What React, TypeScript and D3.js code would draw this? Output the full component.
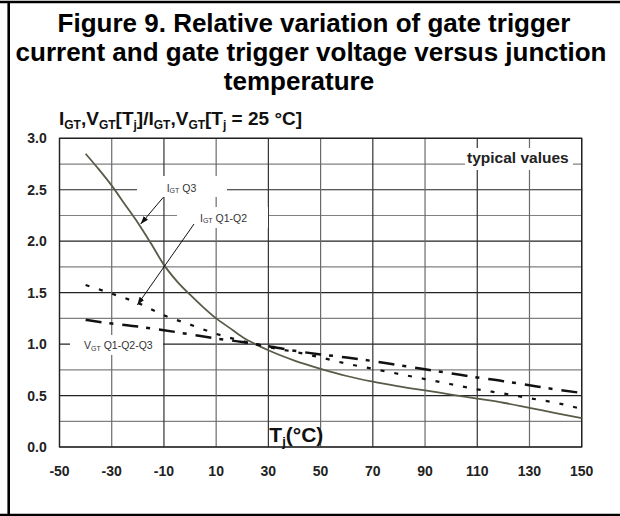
import React from 'react';
import * as d3 from 'd3';

// temperatures (°C) and normalized values
const tempQ3 = [-40, -35, -30, -25, -20, -15, -10, -5, 0, 5, 10, 15, 20, 25, 30, 40, 50, 60, 70, 80, 90, 100, 110, 120, 130, 140, 150];
const igtQ3 = [2.85, 2.70, 2.54, 2.36, 2.18, 1.98, 1.77, 1.61, 1.48, 1.36, 1.25, 1.16, 1.07, 1.0, 0.94, 0.84, 0.76, 0.69, 0.635, 0.59, 0.55, 0.51, 0.47, 0.43, 0.38, 0.33, 0.28];

const temps = [-40, -30, -20, -10, 0, 10, 20, 25, 30, 40, 50, 60, 70, 80, 90, 100, 110, 120, 130, 140, 150];
const igtQ12 = [1.575, 1.49, 1.40, 1.28, 1.19, 1.10, 1.03, 1.0, 0.97, 0.925, 0.87, 0.81, 0.76, 0.71, 0.66, 0.61, 0.56, 0.52, 0.475, 0.43, 0.37];
const vgt = [1.235, 1.20, 1.17, 1.135, 1.095, 1.055, 1.02, 1.0, 0.98, 0.935, 0.90, 0.87, 0.835, 0.795, 0.755, 0.715, 0.675, 0.64, 0.60, 0.56, 0.525];

const xTicks = [-50, -30, -10, 10, 30, 50, 70, 90, 110, 130, 150];
const yTicks = [0, 0.5, 1.0, 1.5, 2.0, 2.5, 3.0];
const yGrid = d3.range(0, 3.0001, 0.25);

const titleLines = [
  'Figure 9. Relative variation of gate trigger',
  'current and gate trigger voltage versus junction',
  'temperature',
];

const W = 620, H = 516;
const font = '"Liberation Sans", Arial, Helvetica, sans-serif';

export default function App() {
  // plot area
  const x = d3.scaleLinear().domain([-50, 150]).range([59.5, 581.7]);
  const y = d3.scaleLinear().domain([0, 3]).range([447, 138.3]);

  const line = d3.line<[number, number]>()
    .x(d => x(d[0]))
    .y(d => y(d[1]))
    .curve(d3.curveMonotoneX);

  const q3Path = line(tempQ3.map((t, i) => [t, igtQ3[i]]));
  const q12Path = line(temps.map((t, i) => [t, igtQ12[i]]));
  const vgtPath = line(temps.map((t, i) => [t, vgt[i]]));

  const titleX = [314, 311, 299];

  return (
    <svg width={W} height={H} style={{ position: 'absolute', left: 0, top: 0, fontFamily: font }}>
      <defs>
        <marker id="arr" viewBox="0 0 10 10" refX="10" refY="5" markerWidth="8" markerHeight="8" orient="auto">
          <path d="M0,1.5 L10,5 L0,8.5 z" fill="#111" />
        </marker>
      </defs>
      <rect width={W} height={H} fill="#fff" />

      {/* frame */}
      <line x1={0} x2={W} y1={2} y2={2} stroke="#000" strokeWidth={2.4} />
      <line x1={8.7} x2={8.7} y1={3} y2={515} stroke="#000" strokeWidth={2.6} />
      <line x1={0} x2={W} y1={514.8} y2={514.8} stroke="#000" strokeWidth={2.2} />

      {/* title */}
      {titleLines.map((t, i) => (
        <text key={i} x={titleX[i]} y={32 + i * 28.8} textAnchor="middle" fontSize={26} fontWeight="bold" fill="#000">{t}</text>
      ))}

      {/* y axis title */}
      <text x={59} y={125} fontSize={19} fontWeight="bold" fill="#111">
        I<tspan fontSize={12} dy={3.5}>GT</tspan>
        <tspan dy={-3.5}>,V</tspan><tspan fontSize={12} dy={3.5}>GT</tspan>
        <tspan dy={-3.5}>[T</tspan><tspan fontSize={12} dy={3.5}>j</tspan>
        <tspan dy={-3.5}>]/I</tspan><tspan fontSize={12} dy={3.5}>GT</tspan>
        <tspan dy={-3.5}>,V</tspan><tspan fontSize={12} dy={3.5}>GT</tspan>
        <tspan dy={-3.5}>[T</tspan><tspan fontSize={12} dy={3.5}>j</tspan>
        <tspan dy={-3.5}> = 25 °C]</tspan>
      </text>

      {/* grid */}
      {yGrid.map((v, i) => (
        <line key={'h' + i} x1={x(-50)} x2={x(150)} y1={y(v)} y2={y(v)}
          stroke={i % 2 === 0 ? '#222' : '#808080'} strokeWidth={1.2} />
      ))}
      {xTicks.map((t, i) => (
        <line key={'v' + i} x1={x(t)} x2={x(t)} y1={y(3)} y2={y(0)}
          stroke={i % 2 === 0 ? '#333' : '#6a6a6a'} strokeWidth={1.2} />
      ))}
      <rect x={x(-50)} y={y(3)} width={x(150) - x(-50)} height={y(0) - y(3)} fill="none" stroke="#222" strokeWidth={1.3} />

      {/* tick labels */}
      {yTicks.map(v => (
        <text key={'yl' + v} x={46.7} y={y(v) + 5} textAnchor="end" fontSize={14} fontWeight="bold" fill="#222">{v.toFixed(1)}</text>
      ))}
      {xTicks.map(t => (
        <text key={'xl' + t} x={x(t)} y={476} textAnchor="middle" fontSize={14} fontWeight="bold" fill="#222">{t}</text>
      ))}

      {/* label boxes hiding grid */}
      <rect x={465} y={148} width={108} height={22} fill="#fff" />
      <rect x={137} y={176} width={90} height={21} fill="#fff" />
      <rect x={177} y={207} width={91} height={21} fill="#fff" />
      <rect x={70} y={335} width={93} height={20} fill="#fff" />

      {/* curves */}
      <path d={q3Path ?? ''} fill="none" stroke="#5a5a48" strokeWidth={1.8} />
      <path d={q12Path ?? ''} fill="none" stroke="#111" strokeWidth={2.2} strokeDasharray="4,10" />
      <path d={vgtPath ?? ''} fill="none" stroke="#111" strokeWidth={2.5} strokeDasharray="16,8,4,9" />

      {/* annotations */}
      <text x={467} y={162.7} fontSize={15.5} fontWeight="bold" fill="#222">typical values</text>

      <text x={166.7} y={191.7} fontSize={10.5} fill="#333">
        I<tspan fontSize={7} dy={1.5}>GT</tspan><tspan dy={-1.5}> Q3</tspan>
      </text>
      <line x1={163.3} y1={197.3} x2={140.7} y2={224} stroke="#111" strokeWidth={1} markerEnd="url(#arr)" />

      <text x={200} y={221.7} fontSize={10.5} fill="#333">
        I<tspan fontSize={7} dy={1.5}>GT</tspan><tspan dy={-1.5}> Q1-Q2</tspan>
      </text>
      <line x1={194} y1={224} x2={137.3} y2={305} stroke="#111" strokeWidth={1} markerEnd="url(#arr)" />

      <text x={84} y={349} fontSize={10.5} fill="#333">
        V<tspan fontSize={7} dy={1.5}>GT</tspan><tspan dy={-1.5}> Q1-Q2-Q3</tspan>
      </text>

      <text x={269.3} y={442} fontSize={21} fontWeight="bold" fill="#111">
        T<tspan fontSize={13} dy={4}>j</tspan><tspan dy={-4}>(°C)</tspan>
      </text>
    </svg>
  );
}
